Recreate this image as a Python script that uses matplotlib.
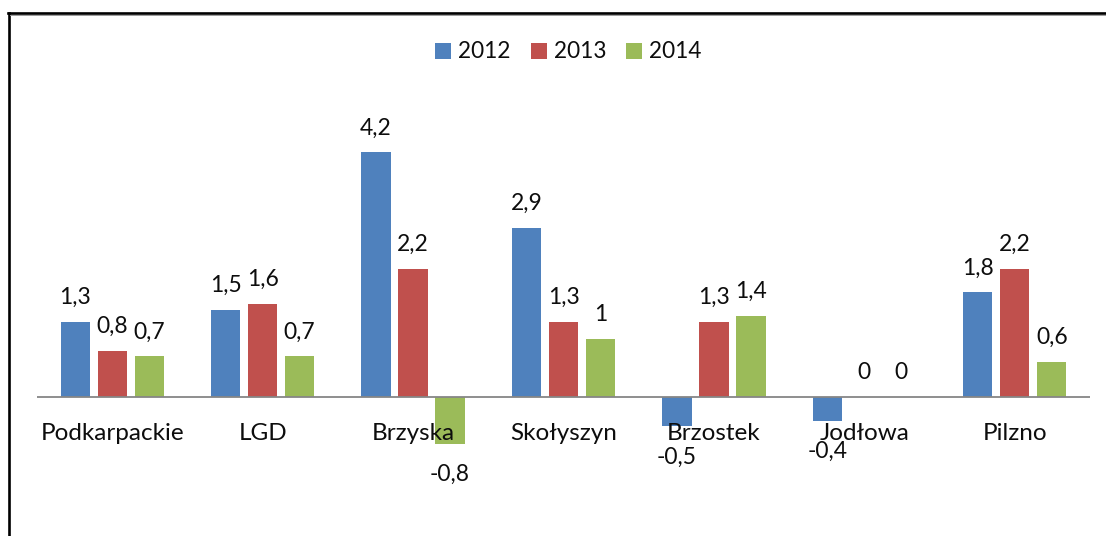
import matplotlib
matplotlib.use("Agg")
import matplotlib.pyplot as plt
from matplotlib.lines import Line2D
import numpy as np

categories = ["Podkarpackie", "LGD", "Brzyska", "Skołyszyn", "Brzostek", "Jodłowa", "Pilzno"]
series_names = ["2012", "2013", "2014"]
v2012 = [1.3, 1.5, 4.2, 2.9, -0.5, -0.4, 1.8]
v2013 = [0.8, 1.6, 2.2, 1.3, 1.3, 0.0, 2.2]
v2014 = [0.7, 0.7, -0.8, 1.0, 1.4, 0.0, 0.6]
colors = ["#4F81BD", "#C0504D", "#9BBB59"]

plt.rcParams['font.family'] = ['Lato', 'DejaVu Sans']

W, H = 1106, 536
fig = plt.figure(figsize=(W / 100, H / 100), dpi=100)
ax = fig.add_axes([37 / W, (H - 500) / H, 1053 / W, 420 / H])

ppu = 58.3
ax.set_xlim(-0.5, 6.5)
ax.set_ylim(-(500 - 397.3) / ppu, (397.3 - 80) / ppu)

x = np.arange(len(categories))
offsets = [-0.246, 0.0, 0.246]
bw = 0.195
txtc = '#0d0d0d'

def fmt(v):
    if v == 0:
        return "0"
    return ("%g" % v).replace(".", ",")

for vals, off, col, name in zip([v2012, v2013, v2014], offsets, colors, series_names):
    ax.bar(x + off, vals, width=bw, color=col, label=name, zorder=2, edgecolor='none')
    for xi, v in zip(x + off, vals):
        dy = 18 if v >= 0 else -37
        ax.annotate(fmt(v), xy=(xi, v), xytext=(0, dy), textcoords='offset pixels',
                    ha='center', va='baseline', fontsize=16.5, color=txtc)

ax.axhline(0, color='#868686', lw=1.3, zorder=3)

for s in ax.spines.values():
    s.set_visible(False)
ax.set_yticks([])
ax.set_xticks(x)
ax.set_xticklabels([])
ax.tick_params(axis='x', length=0)
for xi, c in zip(x, categories):
    ax.annotate(c, xy=(xi, 0), xytext=(0, -43), textcoords='offset pixels',
                ha='center', va='baseline', fontsize=17.5, color=txtc)

ax.legend(loc='center', bbox_to_anchor=(568.5 / W, 1 - 52 / H), bbox_transform=fig.transFigure,
          ncol=3, frameon=False, fontsize=16.3, handlelength=0.7, handleheight=0.7,
          handletextpad=0.3, columnspacing=0.9, borderpad=0, labelcolor=txtc)

# outer frame (left and top edges visible)
fig.add_artist(Line2D([8.7 / W, 8.7 / W], [1 - 12.5 / H, 0], transform=fig.transFigure,
                      color='black', lw=1.9))
fig.add_artist(Line2D([7.5 / W, 1], [1 - 12.5 / H, 1 - 12.5 / H], transform=fig.transFigure,
                      color='black', lw=1.9))
fig.add_artist(Line2D([10 / W, 1], [1 - 14.5 / H, 1 - 14.5 / H], transform=fig.transFigure,
                      color='#9a9a9a', lw=0.7))

fig.savefig("out.png", dpi=100)
